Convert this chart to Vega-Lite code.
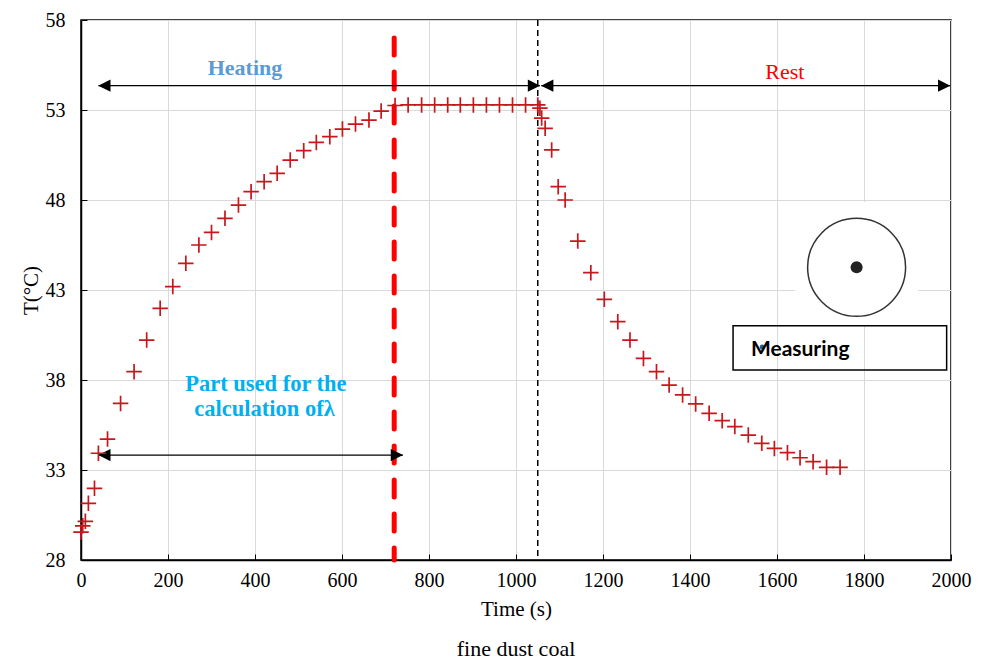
{
  "$schema": "https://vega.github.io/schema/vega-lite/v6.json",
  "autosize": "none",
  "width": 870,
  "height": 540,
  "padding": {"left": 81, "top": 20, "right": 36, "bottom": 101},
  "background": "white",
  "title": {"text": "fine dust coal", "orient": "bottom", "anchor": "middle", "font": "Liberation Serif", "fontSize": 22, "fontWeight": "normal", "color": "black", "offset": 20},
  "datasets": {
    "temps": [
      {"t": 0, "T": 29.55}, {"t": 4, "T": 29.9}, {"t": 10, "T": 30.15}, {"t": 17, "T": 31.15}, {"t": 31, "T": 31.98},
      {"t": 40, "T": 33.93}, {"t": 61, "T": 34.72}, {"t": 91, "T": 36.7}, {"t": 122, "T": 38.46}, {"t": 151, "T": 40.22},
      {"t": 182, "T": 41.98}, {"t": 211, "T": 43.19}, {"t": 241, "T": 44.48}, {"t": 271, "T": 45.5}, {"t": 300, "T": 46.2},
      {"t": 331, "T": 46.98}, {"t": 362, "T": 47.72}, {"t": 391, "T": 48.46}, {"t": 421, "T": 49.02}, {"t": 451, "T": 49.48},
      {"t": 481, "T": 50.22}, {"t": 512, "T": 50.74}, {"t": 541, "T": 51.2}, {"t": 572, "T": 51.52}, {"t": 601, "T": 51.94},
      {"t": 631, "T": 52.22}, {"t": 662, "T": 52.44}, {"t": 690, "T": 52.94}, {"t": 722, "T": 53.25}, {"t": 752, "T": 53.28},
      {"t": 783, "T": 53.28}, {"t": 813, "T": 53.28}, {"t": 843, "T": 53.28}, {"t": 872, "T": 53.28}, {"t": 902, "T": 53.28},
      {"t": 932, "T": 53.28}, {"t": 962, "T": 53.28}, {"t": 992, "T": 53.28}, {"t": 1022, "T": 53.28}, {"t": 1050, "T": 53.28},
      {"t": 1055, "T": 53.1}, {"t": 1059, "T": 52.55}, {"t": 1067, "T": 51.98}, {"t": 1082, "T": 50.78}, {"t": 1097, "T": 48.74},
      {"t": 1113, "T": 48.0}, {"t": 1142, "T": 45.72}, {"t": 1172, "T": 43.96}, {"t": 1203, "T": 42.48}, {"t": 1234, "T": 41.24},
      {"t": 1262, "T": 40.22}, {"t": 1293, "T": 39.2}, {"t": 1323, "T": 38.46}, {"t": 1352, "T": 37.72}, {"t": 1383, "T": 37.17},
      {"t": 1413, "T": 36.67}, {"t": 1444, "T": 36.15}, {"t": 1474, "T": 35.74}, {"t": 1503, "T": 35.41}, {"t": 1534, "T": 34.94},
      {"t": 1565, "T": 34.48}, {"t": 1594, "T": 34.2}, {"t": 1624, "T": 33.96}, {"t": 1653, "T": 33.68}, {"t": 1683, "T": 33.46},
      {"t": 1714, "T": 33.15}, {"t": 1745, "T": 33.15}
    ],
    "bg": [{"t": 1641, "t2": 1924, "T": 47.89, "T2": 41.06}],
    "box": [{"t": 1499, "t2": 1990, "T": 41.02, "T2": 38.56}],
    "redline": [{"t": 720, "T": 57.0, "T2": 28}],
    "blackline": [{"t": 1050, "T": 58, "T2": 28}],
    "sensor": [{"t": 1783, "T": 44.26}],
    "bluedot": [{"t": 1566, "T": 39.83}],
    "arrows": [
      {"t": 40, "t2": 1055, "T": 54.35},
      {"t": 1058, "t2": 1998, "T": 54.35},
      {"t": 40, "t2": 740, "T": 33.83}
    ],
    "headsRight": [{"t": 1055, "T": 54.35}, {"t": 1998, "T": 54.35}, {"t": 740, "T": 33.83}],
    "headsLeft": [{"t": 40, "T": 54.35}, {"t": 1058, "T": 54.35}, {"t": 40, "T": 33.83}],
    "heating": [{"t": 377, "T": 55.33, "label": "Heating"}],
    "rest": [{"t": 1618, "T": 55.11, "label": "Rest"}],
    "part": [{"t": 425, "T": 37.78, "label": "Part used for the"}, {"t": 422, "T": 36.39, "label": "calculation ofλ"}],
    "measuring": [{"t": 1540, "T": 39.67, "label": "Measuring"}]
  },
  "encoding": {
    "x": {
      "field": "t", "type": "quantitative",
      "scale": {"domain": [0, 2000], "nice": false, "zero": false},
      "axis": {"title": "Time (s)", "format": "d", "values": [0, 200, 400, 600, 800, 1000, 1200, 1400, 1600, 1800, 2000], "labelPadding": 16, "titlePadding": 8, "labelFlush": false}
    },
    "y": {
      "field": "T", "type": "quantitative",
      "scale": {"domain": [28, 58], "nice": false, "zero": false},
      "axis": {"title": "T(°C)", "format": "d", "values": [28, 33, 38, 43, 48, 53, 58], "labelPadding": 22, "titlePadding": 4, "labelFlush": false}
    }
  },
  "layer": [
    {"data": {"name": "bg"}, "mark": {"type": "rect", "fill": "white"}, "encoding": {"x2": {"field": "t2"}, "y2": {"field": "T2"}}},
    {"data": {"name": "box"}, "mark": {"type": "rect", "fillOpacity": 0, "stroke": "black", "strokeWidth": 1.5}, "encoding": {"x2": {"field": "t2"}, "y2": {"field": "T2"}}},
    {"data": {"name": "redline"}, "mark": {"type": "rule", "color": "#ff0000", "strokeWidth": 5, "strokeDash": [17, 17], "strokeCap": "round"}, "encoding": {"y2": {"field": "T2"}}},
    {"data": {"name": "blackline"}, "mark": {"type": "rule", "color": "black", "strokeWidth": 1.5, "strokeDash": [6, 4]}, "encoding": {"y2": {"field": "T2"}}},
    {"data": {"name": "sensor"}, "mark": {"type": "point", "shape": "circle", "size": 9600, "fill": "white", "fillOpacity": 1, "stroke": "#333333", "strokeWidth": 1.5, "opacity": 1}},
    {"data": {"name": "sensor"}, "mark": {"type": "point", "shape": "circle", "size": 144, "filled": true, "color": "#222222", "opacity": 1}},
    {"data": {"name": "bluedot"}, "mark": {"type": "point", "shape": "circle", "size": 25, "filled": true, "color": "#2e5c8a", "opacity": 1}},
    {"data": {"name": "arrows"}, "mark": {"type": "rule", "color": "black", "strokeWidth": 1.3}, "encoding": {"x2": {"field": "t2"}}},
    {"data": {"name": "headsRight"}, "mark": {"type": "point", "shape": "M-1,-1L1,0L-1,1Z", "size": 150, "filled": true, "color": "black", "opacity": 1, "xOffset": -6}},
    {"data": {"name": "headsLeft"}, "mark": {"type": "point", "shape": "M1,-1L-1,0L1,1Z", "size": 150, "filled": true, "color": "black", "opacity": 1, "xOffset": 6}},
    {"data": {"name": "temps"}, "mark": {"type": "point", "shape": "M-1,0H1M0,-1V1", "size": 240, "filled": false, "stroke": "#c8161d", "strokeWidth": 1.7, "opacity": 1}},
    {"data": {"name": "heating"}, "mark": {"type": "text", "font": "Liberation Serif", "fontSize": 22, "fontWeight": "bold", "color": "#5b9bd5", "align": "center", "baseline": "middle"}, "encoding": {"text": {"field": "label"}}},
    {"data": {"name": "rest"}, "mark": {"type": "text", "font": "Liberation Serif", "fontSize": 22, "fontWeight": "normal", "color": "#ff0000", "align": "center", "baseline": "middle"}, "encoding": {"text": {"field": "label"}}},
    {"data": {"name": "part"}, "mark": {"type": "text", "font": "Liberation Serif", "fontSize": 22.5, "fontWeight": "bold", "color": "#00b0f0", "align": "center", "baseline": "middle"}, "encoding": {"text": {"field": "label"}}},
    {"data": {"name": "measuring"}, "mark": {"type": "text", "font": "Lato", "fontSize": 21, "fontWeight": "bold", "color": "black", "align": "left", "baseline": "middle"}, "encoding": {"text": {"field": "label"}}}
  ],
  "config": {
    "font": "Liberation Serif",
    "view": {"stroke": "black", "strokeWidth": 1.5},
    "axis": {
      "grid": true, "gridColor": "#d9d9d9", "gridWidth": 1,
      "domainColor": "black", "domainWidth": 1.5,
      "tickColor": "black", "tickSize": -6, "tickWidth": 1,
      "labelFont": "Liberation Serif", "labelFontSize": 20, "labelColor": "black",
      "titleFont": "Liberation Serif", "titleFontSize": 21, "titleFontWeight": "normal", "titleColor": "black"
    }
  }
}
